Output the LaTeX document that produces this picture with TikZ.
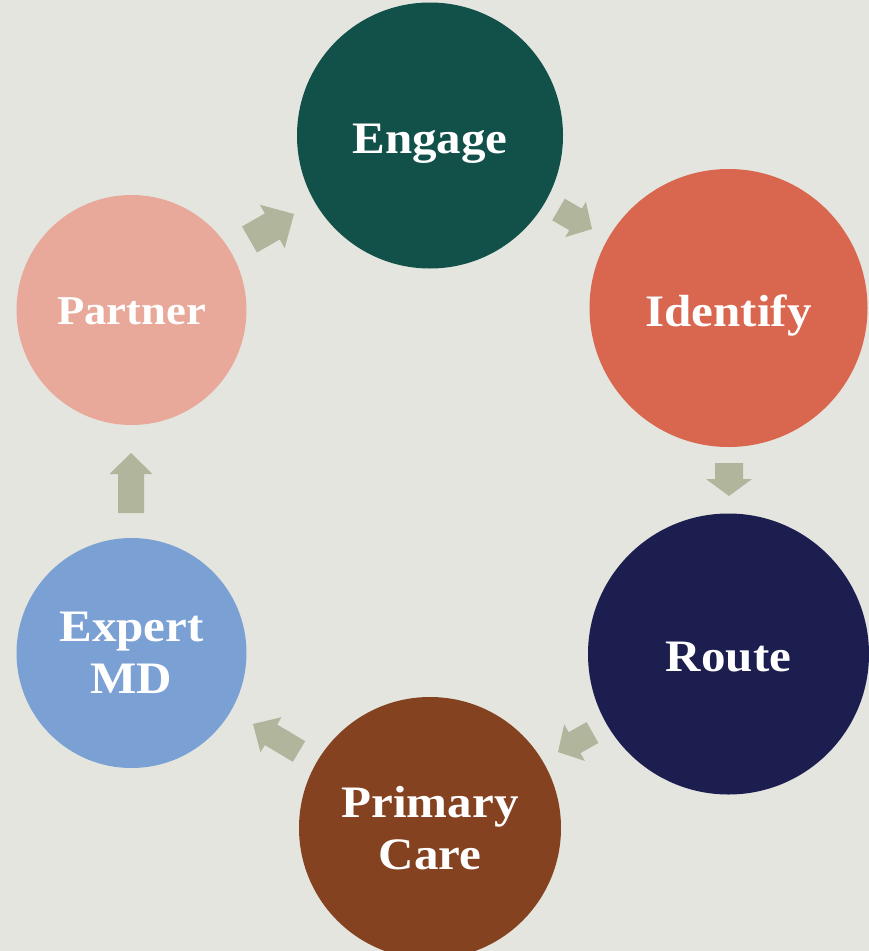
\documentclass[tikz,border=0pt]{standalone}
\usepackage{fontspec}
\setmainfont{Liberation Serif}
\newfontfamily\stagefont[FakeStretch=1.09]{Liberation Serif}
\usetikzlibrary{calc}
\definecolor{bg}{HTML}{E4E5DF}
\definecolor{arr}{HTML}{B0B59B}
\definecolor{cEngage}{HTML}{12514A}
\definecolor{cIdentify}{HTML}{D9664E}
\definecolor{cRoute}{HTML}{1C1E50}
\definecolor{cPrimary}{HTML}{844220}
\definecolor{cExpert}{HTML}{7BA0D4}
\definecolor{cPartner}{HTML}{E8A99A}
\newcommand\blockarr[5]{%
  \coordinate (hb) at ($(#2)!#5pt!(#1)$);
  \fill[arr] ($(#1)!#3pt!90:(#2)$) -- ($(hb)!#3pt!-90:(#1)$) -- ($(hb)!#4pt!-90:(#1)$) -- (#2)
    -- ($(hb)!#4pt!90:(#1)$) -- ($(hb)!#3pt!90:(#1)$) -- ($(#1)!#3pt!-90:(#2)$) -- cycle;}
\tikzset{
  stage/.style={circle, draw=none, inner sep=0pt, text=white, align=center,
    font=\stagefont\fontsize{45}{52}\selectfont\bfseries},
  stagelbl/.style={text=white, align=center, inner sep=0pt,
    font=\stagefont\fontsize{45}{52}\selectfont\bfseries},
}
\begin{document}
\begin{tikzpicture}[x=1pt,y=-1pt]
\fill[bg] (0,0) rectangle (869,951);
\useasboundingbox (0,0) rectangle (869,951);
\node[stage, fill=cEngage, minimum size=266pt] (engage) at (430,135.5) {};
\node[stage, fill=cIdentify, minimum size=278pt] (identify) at (728.5,308) {};
\node[stage, fill=cRoute, minimum size=281pt] (route) at (728.5,654) {};
\node[stage, fill=cPrimary, minimum size=262pt] (primary) at (430,828) {Primary\\Care};
\node[stage, fill=cExpert, minimum size=230pt] (expert) at (131.5,653) {Expert\\MD};
\node[stage, fill=cPartner, minimum size=230pt] (partner) at (131.5,310) {};
\node[stagelbl, anchor=base] (engagel) at (430,153) {Engage};
\node[stagelbl, anchor=base] (identifyl) at (728.5,326) {Identify};
\node[stagelbl, anchor=base] (routel) at (728.5,671) {Route};
\node[stagelbl, anchor=base, font=\stagefont\fontsize{41}{48}\selectfont\bfseries] (partnerl) at (131.5,324) {Partner};
% arrows
\coordinate (a1t) at (249.5,239.5); \coordinate (a1h) at (294,214);
\coordinate (a2t) at (558.5,209.5); \coordinate (a2h) at (592,229);
\coordinate (a3t) at (729,463);     \coordinate (a3h) at (729,496);
\coordinate (a4t) at (592.5,732.5); \coordinate (a4h) at (558,752);
\coordinate (a5t) at (299,751.5);   \coordinate (a5h) at (253,724);
\coordinate (a6t) at (131,513);     \coordinate (a6h) at (131,453);
\blockarr{a1t}{a1h}{15}{25}{25}
\blockarr{a2t}{a2h}{12.5}{20.5}{19}
\blockarr{a3t}{a3h}{14}{23}{17}
\blockarr{a4t}{a4h}{12}{21}{19}
\blockarr{a5t}{a5h}{12}{20.5}{21}
\blockarr{a6t}{a6h}{13}{21.5}{21}
\end{tikzpicture}
\end{document}
